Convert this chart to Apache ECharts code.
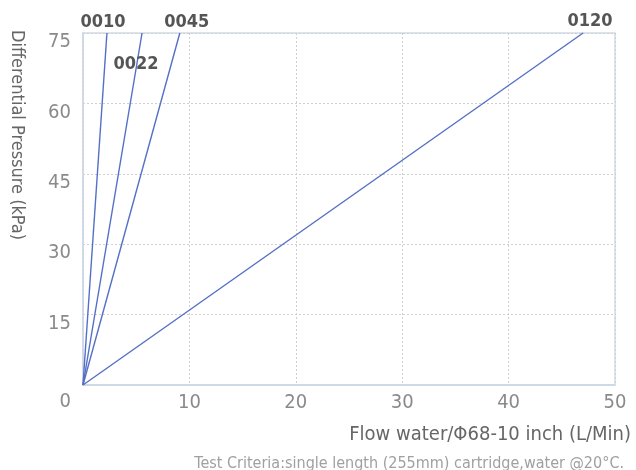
<!DOCTYPE html>
<html>
<head>
<meta charset="utf-8">
<script src="https://cdn.jsdelivr.net/npm/echarts@6/dist/echarts.min.js"></script>
<style>
html,body{margin:0;padding:0;background:#fff;}
#chart{width:636px;height:470px;}
</style>
</head>
<body>
<div id="chart"></div>
<script>
// Data
var seriesNames = ['0010', '0022', '0045', '0120'];
var maxFlow = [2.25, 5.55, 9.1, 47.0];   // flow (L/Min) at 75 kPa
var maxPressure = 75;
var xTicks = [0, 10, 20, 30, 40, 50];
var yTicks = [0, 15, 30, 45, 60, 75];
var labelOffsets = [[-4, 2], [-6, 44], [7, 2], [7, 1]];

var FONT = '"DejaVu Sans Condensed", "Liberation Sans Narrow", sans-serif';
var blue = '#5470c6';

var series = seriesNames.map(function (name, i) {
  return {
    name: name,
    type: 'line',
    clip: false,
    symbol: 'circle',
    symbolSize: 1,
    showSymbol: true,
    itemStyle: { color: 'rgba(0,0,0,0)' },
    lineStyle: { color: blue, width: 1.4 },
    label: { show: false },
    emphasis: { disabled: true },
    data: [
      [0, 0],
      { value: [maxFlow[i], maxPressure],
        label: {
          show: true, position: 'top', distance: 3,
          offset: labelOffsets[i],
          formatter: name,
          fontFamily: FONT, fontWeight: 'bold', fontSize: 18, color: '#555'
        } }
    ],
    animation: false
  };
});

var chart = echarts.init(document.getElementById('chart'));
chart.setOption({
  animation: false,
  title: {
    text: 'Test Criteria:single length (255mm) cartridge,water @20°C.',
    right: 7, top: 451,
    textStyle: { fontFamily: FONT, fontSize: 16, fontWeight: 'normal', color: '#a0a0a0' }
  },
  grid: {
    left: 81, right: 21, top: 33, bottom: 85,
    show: true, borderColor: '#d3dbe7', borderWidth: 1.5
  },
  xAxis: {
    type: 'value',
    min: xTicks[0], max: xTicks[xTicks.length - 1], interval: 10,
    name: 'Flow water/Φ68-10 inch (L/Min)',
    nameLocation: 'end', nameGap: 16,
    nameTextStyle: { align: 'right', verticalAlign: 'top', padding: [40, 0, 0, 0],
      fontFamily: FONT, fontSize: 20, color: '#666' },
    axisLine: { show: true, lineStyle: { color: '#cdd7e6', width: 1.5 } },
    axisTick: { show: false },
    axisLabel: {
      margin: 8,
      fontFamily: FONT, fontSize: 20, color: '#8a8a8a',
      formatter: function (v) { return v === 0 ? '' : String(v); }
    },
    splitLine: { show: true, lineStyle: { color: '#d0d0d0', type: [2, 2] } }
  },
  yAxis: {
    type: 'value',
    min: yTicks[0], max: yTicks[yTicks.length - 1], interval: 15,
    name: 'Differential Pressure (kPa)',
    nameLocation: 'middle', nameRotate: -90, nameGap: 57,
    nameTextStyle: { padding: [0, 148, 0, 0], fontFamily: FONT, fontSize: 18, color: '#666' },
    axisLine: { show: true, lineStyle: { color: '#cdd7e6', width: 1.5 } },
    axisTick: { show: false },
    axisLabel: {
      margin: 12,
      formatter: function (v) { return v === 0 ? '{z|' + v + '}' : '{n|' + v + '}'; },
      rich: {
        n: { fontFamily: FONT, fontSize: 20, color: '#8a8a8a', padding: [18, 0, 0, 0] },
        z: { fontFamily: FONT, fontSize: 20, color: '#8a8a8a', padding: [34, 0, 0, 0] }
      }
    },
    splitLine: { show: true, lineStyle: { color: '#d0d0d0', type: [2, 2] } }
  },
  series: series
});
</script>
</body>
</html>
